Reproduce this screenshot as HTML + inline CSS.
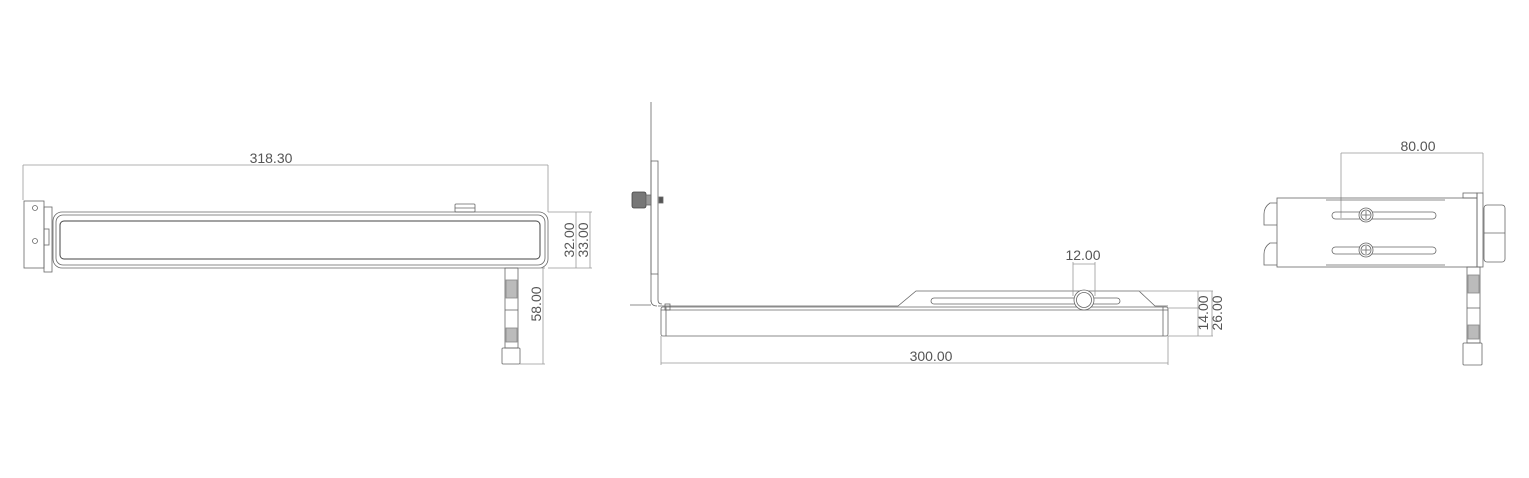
<!DOCTYPE html>
<html><head><meta charset="utf-8"><style>
html,body{margin:0;padding:0;background:#fff;}
svg{display:block;}
text{font-family:"Liberation Sans",sans-serif;font-size:14px;fill:#555;font-weight:300;}
</style></head><body>
<svg width="1529" height="478" viewBox="0 0 1529 478" xmlns="http://www.w3.org/2000/svg">
<g fill="none" stroke="#666" stroke-width="0.8">
<!-- LEFT VIEW -->
<line x1="23" y1="165" x2="548" y2="165" stroke="#999"/>
<line x1="23" y1="165" x2="23" y2="200" stroke="#999"/>
<line x1="548" y1="165" x2="548" y2="212" stroke="#999"/>
<rect x="24" y="201" width="20" height="67"/>
<circle cx="35" cy="208" r="2.5"/>
<circle cx="35" cy="241" r="2.5"/>
<rect x="44" y="207" width="8" height="65"/>
<rect x="44" y="229" width="5" height="16"/>
<rect x="53" y="212" width="495" height="56" rx="9"/>
<rect x="56" y="215" width="489" height="50" rx="7"/>
<rect x="60" y="221" width="480" height="38" rx="4" stroke-width="1" stroke="#444"/>
<rect x="455" y="204" width="20" height="8" rx="1"/>
<line x1="455" y1="208" x2="475" y2="208"/>
<line x1="548" y1="212" x2="592" y2="212" stroke="#999"/>
<line x1="548" y1="268" x2="592" y2="268" stroke="#999"/>
<line x1="576" y1="212" x2="576" y2="268" stroke="#999"/>
<line x1="590" y1="212" x2="590" y2="268" stroke="#999"/>
<rect x="505" y="268" width="13" height="80"/>
<rect x="506" y="280" width="11" height="18" fill="#bbb" stroke="#888"/>
<rect x="506" y="328" width="11" height="14" fill="#bbb" stroke="#888"/>
<line x1="505" y1="310" x2="518" y2="310"/>
<rect x="502" y="348" width="18" height="16" rx="1"/>
<line x1="518" y1="268" x2="545" y2="268" stroke="#999"/>
<line x1="520" y1="364" x2="545" y2="364" stroke="#999"/>
<line x1="543" y1="268" x2="543" y2="364" stroke="#999"/>

<!-- MIDDLE VIEW -->
<line x1="651" y1="102" x2="651" y2="302"/>
<rect x="651" y="161" width="7" height="113"/>
<rect x="632" y="192" width="14" height="16" rx="2" fill="#777" stroke="#444"/>
<rect x="646" y="195" width="5" height="10" fill="#999"/>
<rect x="659" y="197" width="4" height="6" fill="#555"/>
<path d="M651 300 Q651 306 657 306"/>
<path d="M658 274 L658 300 Q658 304 662 304"/>
<line x1="630" y1="305" x2="651" y2="305"/>
<path d="M658 306 L898 306 L916 291 L1139 291 L1155 306 L1168 306"/>
<rect x="931" y="298" width="189" height="6" rx="3"/>
<rect x="661" y="307" width="507" height="29" rx="2"/>
<line x1="661" y1="310" x2="1168" y2="310"/>
<line x1="666" y1="307" x2="666" y2="336"/>
<line x1="1163" y1="307" x2="1163" y2="336"/>
<rect x="665" y="304" width="5" height="6"/>
<circle cx="1084" cy="300" r="10" fill="#fff"/>
<circle cx="1084" cy="300" r="7.5"/>
<line x1="1073" y1="262" x2="1073" y2="296" stroke="#999"/>
<line x1="1095" y1="262" x2="1095" y2="296" stroke="#999"/>
<line x1="1073" y1="264" x2="1095" y2="264" stroke="#999"/>
<line x1="1139" y1="291" x2="1213" y2="291" stroke="#999"/>
<line x1="1168" y1="308" x2="1200" y2="308" stroke="#999"/>
<line x1="1168" y1="336" x2="1213" y2="336" stroke="#999"/>
<line x1="1198" y1="291" x2="1198" y2="336" stroke="#999"/>
<line x1="1212" y1="291" x2="1212" y2="336" stroke="#999"/>
<line x1="661" y1="336" x2="661" y2="365" stroke="#999"/>
<line x1="1168" y1="336" x2="1168" y2="365" stroke="#999"/>
<line x1="661" y1="363" x2="1168" y2="363" stroke="#999"/>

<!-- RIGHT VIEW -->
<line x1="1341" y1="153" x2="1483" y2="153" stroke="#999"/>
<line x1="1341" y1="153" x2="1341" y2="218" stroke="#999"/>
<line x1="1483" y1="153" x2="1483" y2="193" stroke="#999"/>
<rect x="1277" y="198" width="200" height="69"/>
<line x1="1326" y1="200" x2="1445" y2="200"/>
<line x1="1326" y1="265" x2="1445" y2="265"/>
<path d="M1277 203 L1270 203 Q1264 207 1264 214 L1264 225 L1277 225"/>
<path d="M1277 243 L1270 243 Q1264 247 1264 254 L1264 265 L1277 265"/>
<rect x="1332" y="212" width="104" height="7" rx="3.5"/>
<rect x="1332" y="247" width="104" height="7" rx="3.5"/>
<circle cx="1366" cy="215" r="7" fill="#fff"/><circle cx="1366" cy="215" r="5"/>
<path d="M1362 215 H1370 M1366 211 V219"/>
<circle cx="1366" cy="250" r="7" fill="#fff"/><circle cx="1366" cy="250" r="5"/>
<path d="M1362 250 H1370 M1366 246 V254"/>
<rect x="1463" y="193" width="14" height="5"/>
<rect x="1477" y="193" width="6" height="74"/>
<rect x="1484" y="205" width="21" height="57" rx="3"/>
<line x1="1484" y1="233" x2="1505" y2="233"/>
<rect x="1467" y="267" width="13" height="76"/>
<rect x="1468" y="275" width="11" height="18" fill="#bbb" stroke="#888"/>
<rect x="1468" y="325" width="11" height="14" fill="#bbb" stroke="#888"/>
<line x1="1467" y1="308" x2="1480" y2="308"/>
<rect x="1463" y="343" width="19" height="22" rx="1"/>
</g>
<text x="271" y="163" text-anchor="middle">318.30</text>
<text transform="translate(574,240) rotate(-90)" text-anchor="middle">32.00</text>
<text transform="translate(588,240) rotate(-90)" text-anchor="middle">33.00</text>
<text transform="translate(541,304) rotate(-90)" text-anchor="middle">58.00</text>
<text x="1083" y="260" text-anchor="middle">12.00</text>
<text transform="translate(1208,313) rotate(-90)" text-anchor="middle">14.00</text>
<text transform="translate(1222,313) rotate(-90)" text-anchor="middle">26.00</text>
<text x="931" y="361" text-anchor="middle">300.00</text>
<text x="1418" y="151" text-anchor="middle">80.00</text>
</svg>
</body></html>
